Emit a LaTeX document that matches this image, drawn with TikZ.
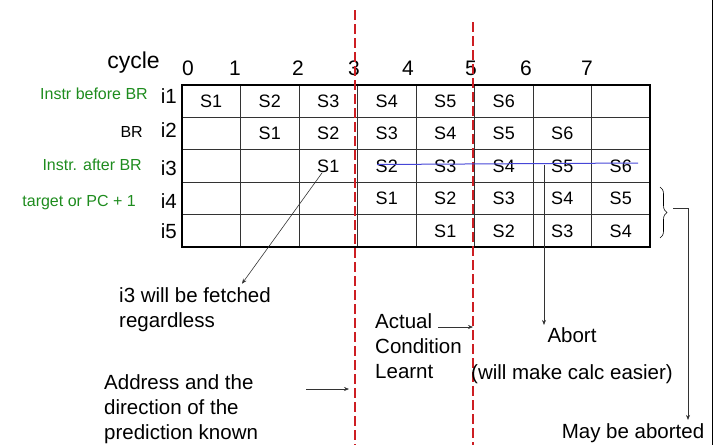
\documentclass[tikz,border=0pt]{standalone}
\usepackage{fontspec}
\setmainfont{Liberation Sans}
\usetikzlibrary{positioning,arrows.meta,decorations.pathreplacing}
\definecolor{tagreen}{RGB}{30,140,30}
\definecolor{cutred}{RGB}{205,30,35}
\definecolor{killblue}{RGB}{70,70,215}
\newcommand{\notefont}{\fontsize{20.5}{25}\selectfont}
\newcommand{\cellfont}{\fontsize{18}{20}\selectfont}
\newcommand{\tagfont}{\fontsize{16}{18}\selectfont}
\tikzset{
  cell/.style  ={inner sep=0pt, font=\cellfont},
  rowlbl/.style={inner sep=0pt, anchor=base east, font=\notefont},
  cyc/.style   ={inner sep=0pt, anchor=base, font=\fontsize{21}{24}\selectfont},
  tag/.style   ={inner sep=0pt, anchor=base east, font=\tagfont, text=tagreen},
  note/.style  ={inner sep=0pt, align=left, font=\notefont},
  arr/.style   ={-{Stealth[length=5pt,width=4pt]}, semithick, black!80},
  cut/.style   ={cutred, line width=1.2pt, dash pattern=on 10pt off 4pt},
  kill/.style  ={killblue, line width=1pt},
  gline/.style ={black!80, line width=0.8pt},
}

\begin{document}
\begin{tikzpicture}[x=1pt, y=-1pt]
  \useasboundingbox (0,0) rectangle (715,445);

  % pipeline table, 8 cycles x 5 instructions
  \foreach \c in {1,...,7}
    \draw[gline] ({182+58.5*\c},85) -- ({182+58.5*\c},247);
  \foreach \r in {1,...,4}
    \draw[gline] (182,{85+32.4*\r}) -- (650,{85+32.4*\r});
  \draw[line width=2pt] (182,85) rectangle (650,247);

  \foreach \r/\first/\last in {1/0/5, 2/1/6, 3/2/7, 4/3/7, 5/4/7}
    \foreach \c [count=\k] in {\first,...,\last}
      \node[cell] (s\r\c) at ({182+58.5*(\c+0.5)}, {85+32.4*(\r-0.5)}) {S\k};

  % cycle numbers and instruction names
  \node[cyc, font=\fontsize{23}{26}\selectfont] (cyc) at (133.5,68) {cycle};
  \foreach \n/\x in {0/188,1/235,2/298,3/354,4/408,5/471,6/526,7/587}
    \node[cyc] (t\n) at (\x,75) {\n};
  \foreach \r/\y in {1/103,2/137,3/175,4/208,5/238}
    \node[rowlbl] (i\r) at (177,\y) {i\r};

  \node[tag] (tg1) at (148,99) {Instr before BR};
  \node[tag, text=black] (tg2) at (143,137) {BR};
  \node[tag] (tg3) at (142,170) {Instr. after BR};
  \node[tag] (tg4) at (136,206) {target or PC + 1};

  % cycle boundaries
  \coordinate (cutA) at (355,10);
  \coordinate (cutB) at (473,22);
  \draw[cut] (cutA) -- (355,445);
  \draw[cut] (cutB) -- (473,445);

  % squashed stages of i3
  \coordinate (killA) at (377,164.5);
  \coordinate (killB) at (638,163);
  \draw[kill] (killA) -- (killB);

  \node[note, anchor=west] (fetch) at (119,310) {i3 will be fetched\\regardless};
  \node[note, anchor=west] (addr) at (104,409.5) {Address and the\\direction of the\\prediction known};
  \node[note, anchor=west] (actual) at (375,346.5) {Actual\\Condition\\Learnt};
  \node[note, anchor=base] (abort) at (572,342) {Abort};
  \node[note, below=22pt of abort] (calc) {(will make calc easier)};
  \node[note, anchor=base] (may) at (633,438) {May be aborted};

  \draw[arr] ([xshift=-6pt]s32.south) -- ([xshift=-29pt, yshift=4pt]fetch.north east);

  \coordinate (addrTail) at (306,389);
  \draw[arr, shorten >=6pt] (addrTail) -- (addrTail -| cutA);
  \coordinate (actTail) at (438,327);
  \draw[arr] (actTail) -- (actTail -| cutB);
  \coordinate (abortTail) at (544,165);
  \draw[arr, shorten >=2pt] (abortTail) -- (abortTail |- abort.north);

  % i4 and i5 grouped
  \draw[decorate, decoration={brace, amplitude=7pt}, semithick] (660,187) -- (660,238);
  \coordinate (grpTip) at (673,208);
  \coordinate (grpTurn) at (688,208);
  \draw[arr, shorten >=3pt] (grpTip) -- (grpTurn) -- (grpTurn |- may.north);

  \draw[line width=1pt] (712,0) -- (712,445);
\end{tikzpicture}
\end{document}
